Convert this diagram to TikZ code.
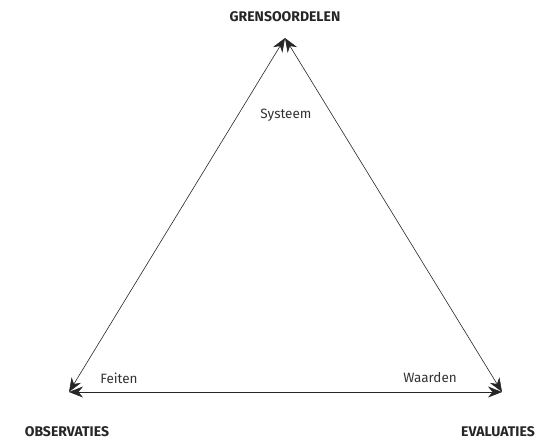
\documentclass[tikz,border=0pt]{standalone}
\usepackage{fontspec}
\setmainfont{Fira Sans}
\usetikzlibrary{arrows.meta}

\begin{document}
\begin{tikzpicture}[x=1pt, y=-1pt]
        \tikzstyle{pole}=[font=\bfseries\fontsize{14}{16}\selectfont, text=black!85]
        \tikzstyle{side}=[font=\fontsize{13.5}{15}\selectfont, text=black!80]
        \tikzstyle{link}=[{Stealth[length=14pt,width=11pt]}-{Stealth[length=14pt,width=11pt]}, line width=0.6pt, black!85]

        \useasboundingbox (0,0) rectangle (556,440);

        \coordinate (T) at (285,38);
        \coordinate (L) at (69,392);
        \coordinate (R) at (502,392);

        \node[pole] (grens) at (285,17)  {GRENSOORDELEN};
        \node[pole] (obs) at (67,432)  {OBSERVATIES};
        \node[pole] (eval) at (498,432)  {EVALUATIES};

        \node[side] (sys) at (286,115)  {Systeem};
        \node[side] (feit) at (119,378)  {Feiten};
        \node[side] (waard) at (430,378)  {Waarden};

        \draw[link] (T) -- (L);
        \draw[link] (T) -- (R);
        \draw[link] (L) -- (R);
    \end{tikzpicture}
\end{document}
